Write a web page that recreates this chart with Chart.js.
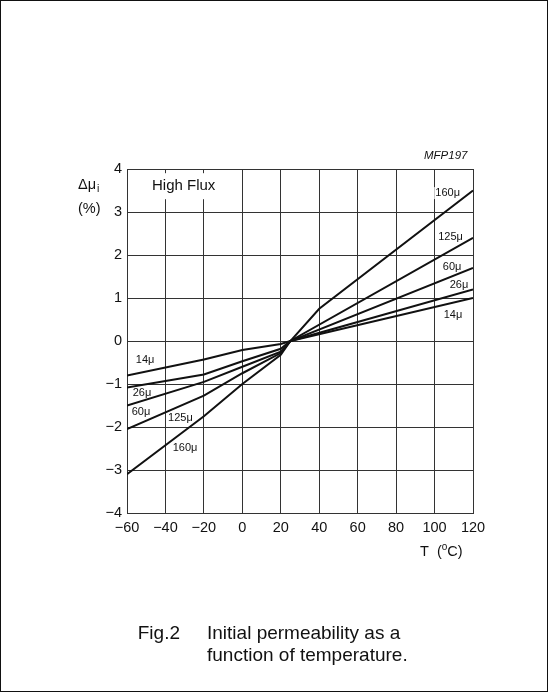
<!DOCTYPE html>
<html>
<head>
<meta charset="utf-8">
<script src="https://cdn.jsdelivr.net/npm/chart.js@4.4.1/dist/chart.umd.min.js"></script>
<style>
  html, body { margin: 0; padding: 0; background: #fff; }
  #wrap { width: 549px; height: 693px; }
</style>
</head>
<body>
<div id="wrap"><canvas id="c" width="549" height="693"></canvas></div>
<script>
// ---- data ----
const seriesNames = ['14\u03bc', '26\u03bc', '60\u03bc', '125\u03bc', '160\u03bc'];
const temp14  = [-60, -20, 0, 20, 25, 120];
const mu14    = [-0.80, -0.43, -0.21, -0.07, 0, 1.00];
const temp26  = [-60, -20, 0, 20, 25, 120];
const mu26    = [-1.08, -0.78, -0.47, -0.18, 0, 1.20];
const temp60  = [-60, -20, 0, 20, 25, 120];
const mu60    = [-1.50, -0.95, -0.60, -0.25, 0, 1.70];
const temp125 = [-60, -20, 0, 20, 25, 120];
const mu125   = [-2.05, -1.27, -0.75, -0.28, 0, 2.40];
const temp160 = [-60, -20, 0, 20, 25, 40, 120];
const mu160   = [-3.10, -1.75, -1.00, -0.32, 0, 0.75, 3.50];
const xTicks  = [-60, -40, -20, 0, 20, 40, 60, 80, 100, 120];
const yTicks  = [-4, -3, -2, -1, 0, 1, 2, 3, 4];

// label anchors (data coordinates) for the curve labels
const rightLabelAt = { t: [109.6, 112.7, 109.1, 108.3, 106.8], mu: [0.60, 1.30, 1.72, 2.42, 3.44] };
const leftLabelAt  = { t: [-50.6, -52.2, -52.7, -32.2, -29.8], mu: [-0.44, -1.21, -1.65, -1.78, -2.48] };

const FONT = "'Liberation Sans', Arial, Helvetica, sans-serif";
Chart.defaults.font.family = FONT;
Chart.defaults.color = '#111';

function pts(ts, vs) { return ts.map((t, i) => ({ x: t, y: vs[i] })); }
const allSeries = [[temp14, mu14], [temp26, mu26], [temp60, mu60], [temp125, mu125], [temp160, mu160]];

const datasets = allSeries.map((s, i) => ({
  label: seriesNames[i],
  data: pts(s[0], s[1]),
  borderColor: '#111',
  borderWidth: 2,
  pointRadius: 0,
  tension: 0,
  fill: false
}));

function minus(v) { return String(v).replace('-', '\u2212'); }

const annot = {
  id: 'annot',
  beforeDraw(chart) {
    const ctx = chart.ctx;
    ctx.save();
    ctx.fillStyle = '#fff';
    ctx.fillRect(0, 0, chart.width, chart.height);
    ctx.restore();
  },
  beforeDatasetsDraw(chart) {
    const { ctx, scales: { x, y } } = chart;
    ctx.save();
    ctx.fillStyle = '#fff';
    ctx.font = '11px ' + FONT;
    const boxes = (at) => at.t.forEach((t, i) => {
      const w = ctx.measureText(seriesNames[i]).width;
      const cx = x.getPixelForValue(t), cy = y.getPixelForValue(at.mu[i]);
      ctx.fillRect(cx - w / 2 - 1, cy - 6, w + 2, 12);
    });
    boxes(rightLabelAt);
    boxes(leftLabelAt);
    // High Flux box
    ctx.font = '15px ' + FONT;
    const hw = ctx.measureText('High Flux').width;
    const hx = x.getPixelForValue(-47), hy = y.getPixelForValue(3.6);
    ctx.fillRect(hx - 3, hy - 13, hw + 6, 26);
    ctx.restore();
  },
  afterDatasetsDraw(chart) {
    const { ctx, scales: { x, y } } = chart;
    ctx.save();
    ctx.fillStyle = '#111';
    ctx.textAlign = 'center';
    ctx.textBaseline = 'middle';
    ctx.font = '11px ' + FONT;
    const draw = (at) => at.t.forEach((t, i) => {
      ctx.fillText(seriesNames[i], x.getPixelForValue(t), y.getPixelForValue(at.mu[i]));
    });
    draw(rightLabelAt);
    draw(leftLabelAt);
    ctx.textAlign = 'left';
    ctx.font = '15px ' + FONT;
    ctx.fillText('High Flux', x.getPixelForValue(-47), y.getPixelForValue(3.6));
    ctx.restore();
  },
  afterDraw(chart) {
    const ctx = chart.ctx;
    ctx.save();
    ctx.fillStyle = '#111';
    ctx.textBaseline = 'alphabetic';
    ctx.textAlign = 'left';
    // MFP code
    ctx.font = 'italic 11.5px ' + FONT;
    ctx.fillText('MFP197', 424, 159);
    // y axis title
    ctx.font = '14.5px ' + FONT;
    ctx.fillText('\u0394\u03bc', 78, 189);
    ctx.font = '10.5px ' + FONT;
    ctx.fillText('i', 97, 192);
    ctx.font = '14.5px ' + FONT;
    ctx.fillText('(%)', 78, 213);
    // x axis title  T (oC)
    let px = 420;
    const by = 556;
    ctx.font = '14.5px ' + FONT;
    ctx.fillText('T  (', px, by); px += ctx.measureText('T  (').width;
    ctx.font = '10px ' + FONT;
    ctx.fillText('o', px, by - 6); px += ctx.measureText('o').width;
    ctx.font = '14.5px ' + FONT;
    ctx.fillText('C)', px, by);
    // caption
    ctx.font = '19px ' + FONT;
    ctx.textAlign = 'right';
    ctx.fillText('Fig.2', 180, 639);
    ctx.textAlign = 'left';
    ctx.fillText('Initial permeability as a', 207, 639);
    ctx.fillText('function of temperature.', 207, 661);
    // frame
    ctx.strokeStyle = '#111';
    ctx.lineWidth = 1;
    ctx.strokeRect(0.5, 0.5, 547, 691);
    ctx.restore();
  }
};

new Chart(document.getElementById('c'), {
  type: 'line',
  data: { datasets },
  options: {
    responsive: false,
    animation: false,
    devicePixelRatio: 1,
    layout: { padding: { top: 169, right: 76, left: 0, bottom: 0 } },
    plugins: { legend: { display: false }, tooltip: { enabled: false }, title: { display: false } },
    scales: {
      x: {
        type: 'linear',
        min: xTicks[0], max: xTicks[xTicks.length - 1],
        afterBuildTicks(scale) { scale.ticks = xTicks.map(v => ({ value: v })); },
        afterFit(scale) { scale.height = 180; },
        ticks: { autoSkip: false, maxRotation: 0, padding: 6, font: { size: 14.5 }, color: '#111', callback: v => minus(v) },
        grid: { color: '#333', lineWidth: 1, drawTicks: false },
        border: { display: true, color: '#333', width: 1 }
      },
      y: {
        type: 'linear',
        min: yTicks[0], max: yTicks[yTicks.length - 1],
        afterBuildTicks(scale) { scale.ticks = yTicks.map(v => ({ value: v })); },
        afterFit(scale) { scale.width = 127; },
        ticks: { autoSkip: false, padding: 5, font: { size: 14.5 }, color: '#111', callback: v => minus(v) },
        grid: { color: '#333', lineWidth: 1, drawTicks: false },
        border: { display: true, color: '#333', width: 1 }
      }
    }
  },
  plugins: [annot]
});
</script>
</body>
</html>
